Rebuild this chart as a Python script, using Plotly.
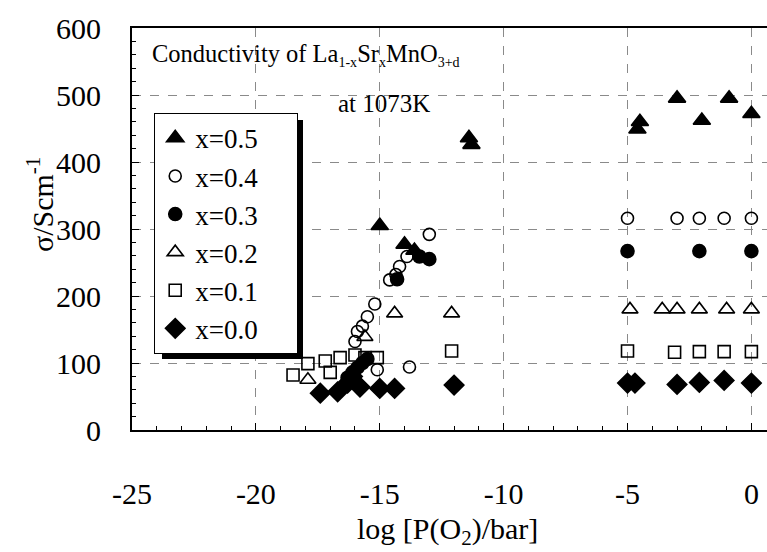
import plotly.graph_objects as go

# ---- data (log P(O2)/bar, sigma / S cm^-1) ----
x05 = [-15.0, -14.0, -13.6, -11.4, -11.3, -4.6, -4.5, -3.0, -2.0, -0.9, 0.0]
y05 = [305, 277, 268, 436, 426, 449, 460, 495, 462, 495, 472]

x04 = [-16.0, -15.9, -15.7, -15.5, -15.2, -15.1, -14.6, -14.35, -14.2, -13.9, -13.8, -13.0, -5.0, -3.0, -2.1, -1.1, 0.0]
y04 = [132, 147, 155, 169, 188, 90, 224, 232, 244, 259, 94, 292, 316, 316, 316, 316, 316]

x03 = [-16.3, -16.1, -15.9, -15.7, -15.5, -14.3, -13.4, -13.0, -5.0, -2.1, 0.0]
y03 = [78, 86, 93, 100, 106, 225, 259, 255, 267, 267, 267]

x02 = [-17.9, -15.6, -14.4, -12.1, -4.9, -3.6, -3.0, -2.1, -1.0, 0.0]
y02 = [75, 139, 174, 174, 180, 180, 180, 180, 180, 180]

x01 = [-18.5, -17.9, -17.2, -17.0, -16.6, -16.0, -15.6, -15.1, -12.1, -5.0, -3.1, -2.1, -1.1, 0.0]
y01 = [82, 99, 103, 86, 108, 112, 108, 108, 118, 118, 116, 117, 117, 117]

x00 = [-17.4, -16.7, -16.3, -16.1, -15.8, -15.0, -14.4, -12.0, -5.0, -4.7, -3.0, -2.1, -1.1, 0.0]
y00 = [55, 57, 70, 80, 64, 62, 62, 67, 70, 70, 68, 71, 74, 70]

names = ["x=0.5", "x=0.4", "x=0.3", "x=0.2", "x=0.1", "x=0.0"]
xs_all = [x05, x04, x03, x02, x01, x00]
ys_all = [y05, y04, y03, y02, y01, y00]
symbols = ["triangle-up", "circle-open", "circle", "triangle-up-open", "square-open", "diamond"]
sizes = [15, 12, 13, 14, 12, 15]

FONT = "Liberation Serif, Times New Roman, serif"
PAD = "\u00a0" * 5

fig = go.Figure()
for name, xs, ys, sym, sz in zip(names, xs_all, ys_all, symbols, sizes):
    fig.add_trace(go.Scatter(
        x=xs, y=ys, mode="markers", name=name + PAD,
        marker=dict(symbol=sym, size=sz, color="black",
                    line=dict(color="black", width=1.6)),
    ))

fig.update_layout(
    width=767, height=552,
    margin=dict(l=132, r=0, t=28, b=122),
    paper_bgcolor="white", plot_bgcolor="white",
    font=dict(family=FONT, size=28, color="black"),
    showlegend=True,
    legend=dict(x=0.035, y=0.789, xanchor="left", yanchor="top",
                bgcolor="white", bordercolor="black", borderwidth=1,
                font=dict(family=FONT, size=27, color="black"),
                tracegroupgap=0, itemwidth=30),
    xaxis=dict(range=[-25, 0.63], tickvals=[-25, -20, -15, -10, -5, 0],
               ticktext=["-25", "-20", "-15", "-10", "-5", "0"],
               ticks="inside", ticklen=7, tickwidth=1, tickcolor="black",
               minor=dict(dtick=1, ticks="inside", ticklen=4, tickcolor="black", showgrid=False),
               showgrid=True, gridcolor="#8a8a8a", griddash="dash", gridwidth=1,
               showline=True, linecolor="black", linewidth=2, mirror=True,
               zeroline=False, ticklabelstandoff=36,
               tickfont=dict(family=FONT, size=30)),
    yaxis=dict(range=[0, 600], tickvals=[0, 100, 200, 300, 400, 500, 600],
               ticks="inside", ticklen=7, tickwidth=1, tickcolor="black",
               minor=dict(dtick=20, ticks="inside", ticklen=4, tickcolor="black", showgrid=False),
               showgrid=True, gridcolor="#8a8a8a", griddash="dash", gridwidth=1,
               showline=True, linecolor="black", linewidth=2, mirror=False,
               zeroline=False, ticklabelstandoff=23,
               tickfont=dict(family=FONT, size=30)),
)

# legend shadow (drawn below the legend box, offset down-right)
fig.add_shape(type="rect", xref="paper", yref="paper", layer="above",
              x0=(162 - 132) / 635, x1=(303 - 132) / 635,
              y0=(430 - 359) / 402, y1=(430 - 120) / 402,
              fillcolor="black", line=dict(width=0))

SUB = '<sub><span style="font-size:14px">{}</span></sub>'
title_text = ("Conductivity of La" + SUB.format("1-x") + "Sr" + SUB.format("x")
              + "MnO" + SUB.format("3+d"))
fig.add_annotation(xref="paper", yref="paper", x=(150 - 132) / 635, y=(430 - 55) / 402,
                   xanchor="left", yanchor="middle", showarrow=False,
                   text=title_text,
                   font=dict(family=FONT, size=24.5, color="black"))
fig.add_annotation(xref="paper", yref="paper", x=(336 - 132) / 635, y=(430 - 103) / 402,
                   xanchor="left", yanchor="middle", showarrow=False,
                   text="at 1073K",
                   font=dict(family=FONT, size=25, color="black"))
fig.add_annotation(xref="paper", yref="paper", x=(447 - 132) / 635, y=(430 - 531) / 402,
                   xanchor="center", yanchor="middle", showarrow=False,
                   text="log [P(O<sub>2</sub>)/bar]",
                   font=dict(family=FONT, size=30, color="black"))
fig.add_annotation(xref="paper", yref="paper", x=(40 - 132) / 635, y=(430 - 205) / 402,
                   xanchor="center", yanchor="middle", showarrow=False, textangle=-90,
                   text="σ/Scm<sup>-1</sup>",
                   font=dict(family=FONT, size=30, color="black"))

fig.write_html("out.html")
